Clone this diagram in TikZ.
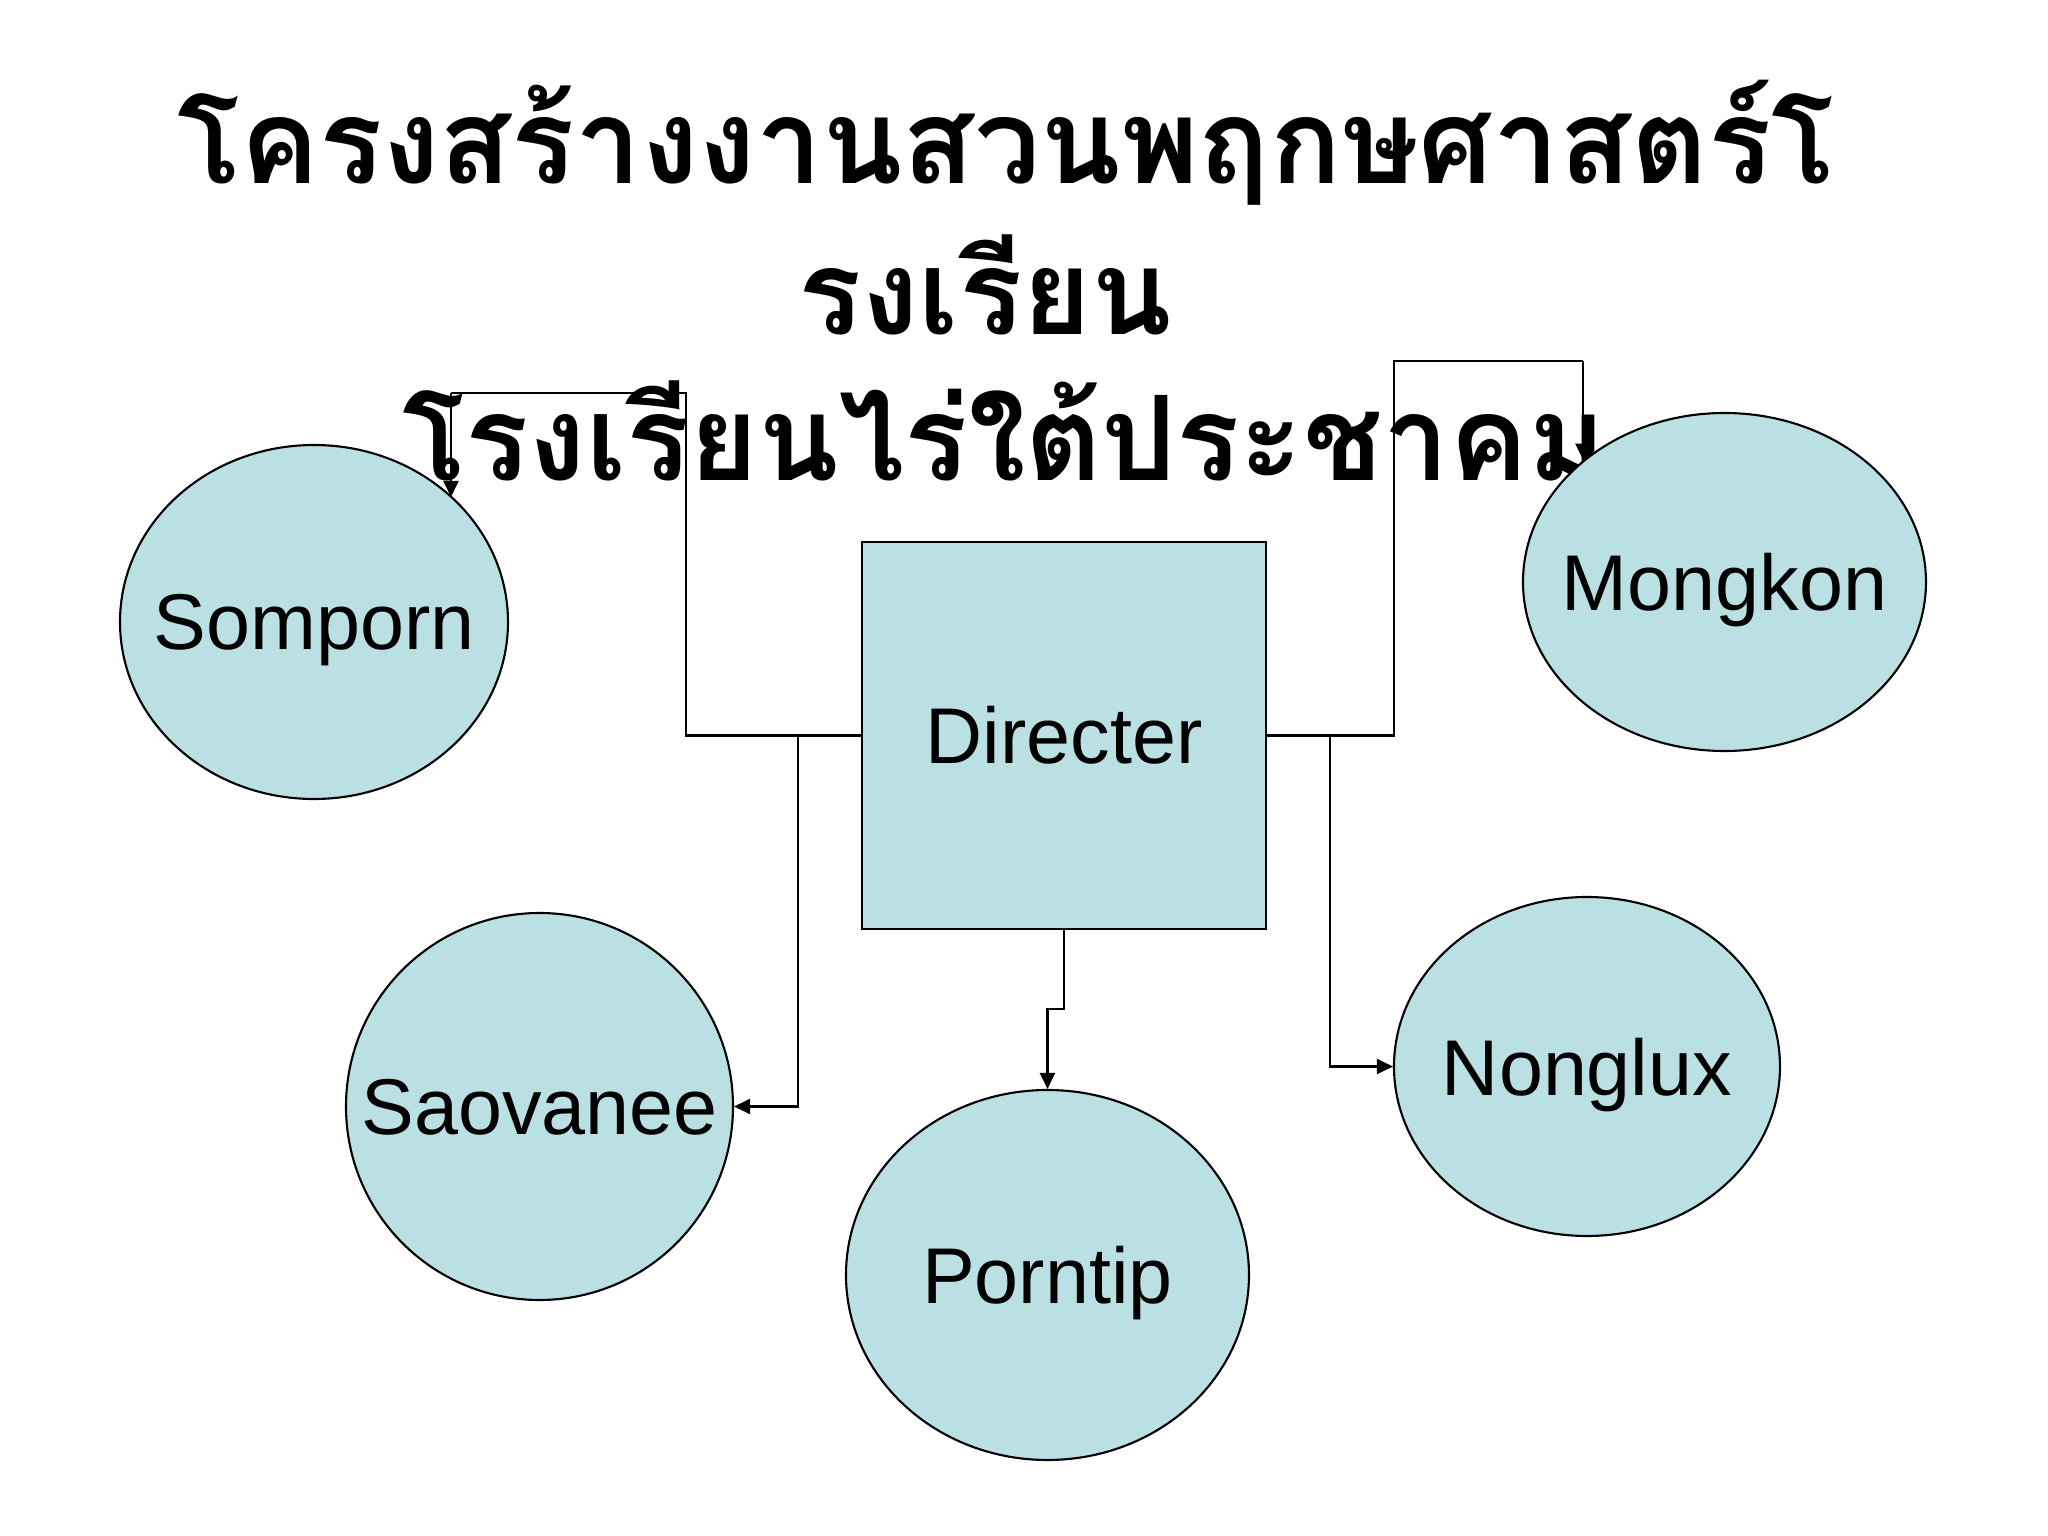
\documentclass[tikz,border=0pt]{standalone}
\usepackage{fontspec}
\setmainfont{Liberation Sans}
\newfontfamily\thaifont[Script=Thai]{Loma}
\usetikzlibrary{arrows.meta,shapes.geometric}
\definecolor{paleteal}{RGB}{187,224,227}
\tikzset{
  person/.style={ellipse,draw,line width=0.6pt,fill=paleteal,inner sep=0pt},
  personname/.style={text depth=0pt,font=\fontsize{22.5}{27}\selectfont},
  boss/.style={rectangle,draw,line width=0.6pt,fill=paleteal,inner sep=0pt,
    font=\fontsize{22.5}{27}\selectfont},
  titletext/.style={anchor=base,font=\thaifont\bfseries\fontsize{33.5}{40}\selectfont},
  link/.style={line width=0.6pt},
  arrowlink/.style={link,-{Triangle[length=1.6mm,width=1.5mm]}}
}

\begin{document}
\begin{tikzpicture}
    \useasboundingbox (0,0) rectangle (20.48,-15.36);
    % title
    \node[titletext] (title1) at (10.06,-1.84) {โครงสร้างงานสวนพฤกษศาสตร์โ};
    \node[titletext] (title2) at (9.85,-3.35) {รงเรียน};
    \node[titletext] (title3) at (10.04,-4.81) {โรงเรียนไร่ใต้ประชาคม};
    % people
    \node[boss,minimum width=4.04cm,minimum height=3.87cm] (directer) at (10.64,-7.355) {Directer};
    \node[person,minimum width=3.88cm,minimum height=3.54cm,
      label={[personname]center:Somporn}] (somporn) at (3.14,-6.22) {};
    \node[person,minimum width=4.03cm,minimum height=3.38cm,
      label={[personname]center:Mongkon}] (mongkon) at (17.245,-5.82) {};
    \node[person,minimum width=3.87cm,minimum height=3.87cm,
      label={[personname]center:Saovanee}] (saovanee) at (5.395,-11.065) {};
    \node[person,minimum width=4.03cm,minimum height=3.70cm,
      label={[personname]center:Porntip}] (porntip) at (10.475,-12.75) {};
    \node[person,minimum width=3.86cm,minimum height=3.39cm,
      label={[personname]center:Nonglux}] (nonglux) at (15.87,-10.665) {};
    % bends
    \coordinate (lt) at (6.86,-7.355);
    \coordinate (lb) at (7.98,-7.355);
    \coordinate (st) at (4.51,-3.93);
    \coordinate (rt) at (13.94,-7.355);
    \coordinate (rb) at (13.30,-7.355);
    \coordinate (mt) at (15.83,-3.61);
    \coordinate (pb) at (10.64,-10.09);
    % links
    \draw[link] (directer.west) -- (lt) |- (st);
    \draw[arrowlink] (st) -- (st |- somporn.42.4);
    \draw[arrowlink] (lb) |- (saovanee.east);
    \draw[link] (directer.east) -- (rt) |- (mt);
    \draw[arrowlink] (mt) -- (mt |- mongkon.139);
    \draw[arrowlink] (rb) |- (nonglux.west);
    \draw[arrowlink] (directer.south) -- (pb) -| (porntip.north);
\end{tikzpicture}
\end{document}
